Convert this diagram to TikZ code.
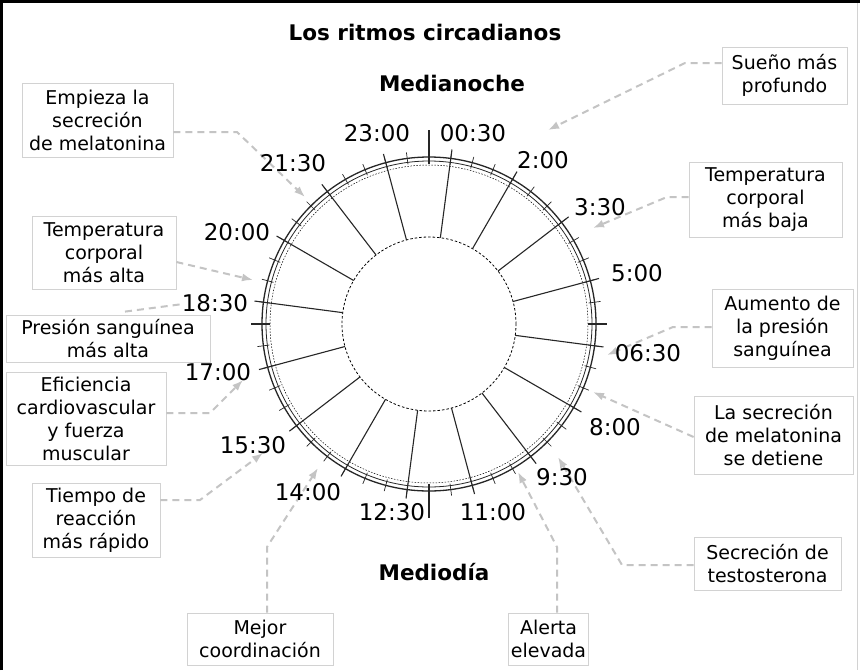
\documentclass[tikz,border=0pt]{standalone}
\usepackage{fontspec}
\setmainfont{DejaVu Sans}
\usetikzlibrary{arrows.meta,calc}
\definecolor{conngray}{HTML}{C4C4C4}
\definecolor{boxgray}{HTML}{D2D2D2}
\tikzset{
  infobox/.style={draw=boxgray, line width=0.8pt, align=center, inner sep=2pt,
    font=\fontsize{19}{23}\selectfont, text=black},
  hourlbl/.style={font=\fontsize{23}{26}\selectfont, inner sep=0pt},
  headlbl/.style={font=\bfseries\fontsize{21.5}{24}\selectfont, inner sep=0pt},
  conn/.style={draw=conngray, line width=2pt, dash pattern=on 7pt off 5pt,
    -{Latex[length=11pt,width=8pt]}},
  connplain/.style={draw=conngray, line width=2pt, dash pattern=on 7pt off 5pt},
  radial/.style={line width=1.1pt, black!85},
  tickmark/.style={line width=0.7pt, black!85}
}
\begin{document}
\begin{tikzpicture}[x=1pt,y=-1pt]
\useasboundingbox (0,0) rectangle (860,670);
\fill[white] (0,0) rectangle (860,670);
% frame
\draw[line width=3pt] (1.5,670) -- (1.5,1.5) -- (860,1.5);
\draw[line width=0.8pt, boxgray] (857,3) -- (857,670);

% headings
\node[headlbl] (title) at (425,32) {Los ritmos circadianos};
\node[headlbl] (midnight) at (452,83) {Medianoche};
\node[headlbl] (noon) at (434,572) {Mediodía};

% clock
\begin{scope}[shift={(429,324)}]
  \coordinate (C) at (0,0);
  \draw[line width=1.3pt, black!85] (C) circle[radius=167pt];
  \draw[line width=0.8pt, black!85] (C) circle[radius=163pt];
  \draw[line width=0.5pt, dash pattern=on 1.5pt off 1.5pt] (C) circle[radius=159pt];
  \draw[line width=0.8pt, dash pattern=on 2.5pt off 2pt] (C) circle[radius=87pt];
  \foreach \k in {0,...,47}{
    \draw[tickmark] ({161*sin(7.5*\k)},{-161*cos(7.5*\k)}) -- ({173*sin(7.5*\k)},{-173*cos(7.5*\k)});
  }
  \foreach \k in {0,...,15}{
    \draw[radial] ({87*sin(7.5+22.5*\k)},{-87*cos(7.5+22.5*\k)}) -- ({176*sin(7.5+22.5*\k)},{-176*cos(7.5+22.5*\k)});
  }
  \draw[radial] (0,-160) -- (0,-194);
  \draw[radial] (0,160) -- (0,194);
  \draw[radial] (159,0) -- (178,0);
  \draw[radial] (-159,0) -- (-178,0);
\end{scope}

% connector bend points and tips
\coordinate (e1) at (237,132);  \coordinate (t1) at (305,197);
\coordinate (t2) at (253,280);
\coordinate (e3) at (183,304);
\coordinate (e4) at (210,413);  \coordinate (t4) at (243,380);
\coordinate (e5) at (200,500);  \coordinate (t5) at (263,453);
\coordinate (e6) at (267,547);  \coordinate (t6) at (318,468);
\coordinate (e7) at (557,547);  \coordinate (t7) at (518,472);
\coordinate (e8) at (622,565);  \coordinate (t8) at (558,457);
\coordinate (t9) at (593,392);
\coordinate (e10) at (673,327); \coordinate (t10) at (607,355);
\coordinate (e11) at (667,197); \coordinate (t11) at (593,228);
\coordinate (e12) at (685,63);  \coordinate (t12) at (548,130);

% info boxes
\node[infobox, minimum width=151pt, minimum height=74pt] (emp) at (97.5,120) {Empieza la\\secreción\\de melatonina};
\node[infobox, minimum width=144pt, minimum height=73pt] (talta) at (104,252.5) {Temperatura\\corporal\\más alta};
\node[infobox, minimum width=204pt, minimum height=47pt] (pres) at (108,338.5) {Presión sanguínea\\más alta};
\node[infobox, minimum width=160pt, minimum height=93pt] (efic) at (86,418.5) {Eficiencia\\cardiovascular\\y fuerza\\muscular};
\node[infobox, minimum width=128pt, minimum height=74pt] (tiempo) at (96,520) {Tiempo de\\reacción\\más rápido};
\node[infobox, minimum width=146pt, minimum height=52pt] (mejor) at (260,639) {Mejor\\coordinación};
\node[infobox, minimum width=67pt, minimum height=52pt] (alerta) at (548.5,639) {Alerta\\elevada};
\node[infobox, minimum width=147pt, minimum height=53pt] (testo) at (767.5,563.5) {Secreción de\\testosterona};
\node[infobox, minimum width=159pt, minimum height=78pt] (detiene) at (773.5,435) {La secreción\\de melatonina\\se detiene};
\node[infobox, minimum width=141pt, minimum height=78pt] (aumento) at (782.5,328) {Aumento de\\la presión\\sanguínea};
\node[infobox, minimum width=153pt, minimum height=75pt] (tbaja) at (765.5,199.5) {Temperatura\\corporal\\más baja};
\node[infobox, minimum width=125pt, minimum height=57pt] (sueno) at (784.5,75.5) {Sueño más\\profundo};

\draw[conn] (emp.east |- e1) -- (e1) -- (t1);
\draw[conn] ($(talta.east)+(0,9.5)$) -- (t2);
\draw[connplain] ($(pres.north)+(17,-3)$) -- (e3);
\draw[conn] (efic.east |- e4) -- (e4) -- (t4);
\draw[conn] (tiempo.east |- e5) -- (e5) -- (t5);
\draw[conn] (mejor.north -| e6) -- (e6) -- (t6);
\draw[conn] (alerta.north -| e7) -- (e7) -- (t7);
\draw[conn] (testo.west |- e8) -- (e8) -- (t8);
\draw[conn] ($(detiene.west)+(0,2)$) -- (t9);
\draw[conn] (aumento.west |- e10) -- (e10) -- (t10);
\draw[conn] (tbaja.west |- e11) -- (e11) -- (t11);
\draw[conn] (sueno.west |- e12) -- (e12) -- (t12);

% hour labels
\node[hourlbl] (h2300) at (377,133) {23:00};
\node[hourlbl] (h0030) at (473,133) {00:30};
\node[hourlbl] (h0200) at (543,160) {2:00};
\node[hourlbl] (h0330) at (600,207) {3:30};
\node[hourlbl] (h0500) at (637,273) {5:00};
\node[hourlbl] (h0630) at (648,353) {06:30};
\node[hourlbl] (h0800) at (615,427) {8:00};
\node[hourlbl] (h0930) at (562,477) {9:30};
\node[hourlbl] (h1100) at (493,512) {11:00};
\node[hourlbl] (h1230) at (392,512) {12:30};
\node[hourlbl] (h1400) at (308,492) {14:00};
\node[hourlbl] (h1530) at (253,445) {15:30};
\node[hourlbl] (h1700) at (218,372) {17:00};
\node[hourlbl, fill=white, inner sep=1pt] (h1830) at (215,303) {18:30};
\node[hourlbl] (h2000) at (237,232) {20:00};
\node[hourlbl] (h2130) at (293,163) {21:30};
\end{tikzpicture}
\end{document}
